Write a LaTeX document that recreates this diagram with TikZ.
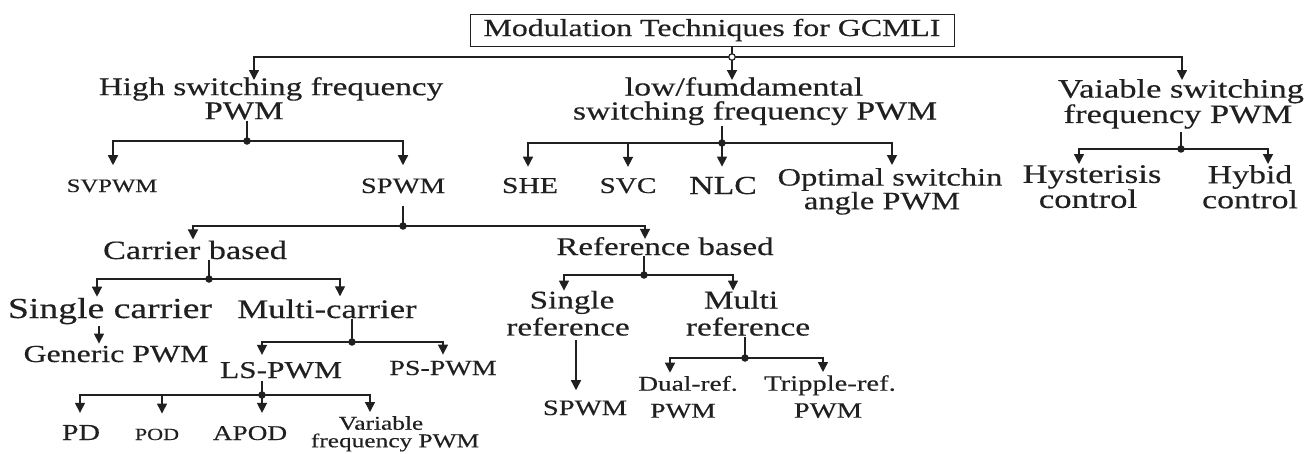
\documentclass[tikz,border=0pt]{standalone}
\usepackage{fontspec}
\setmainfont{Liberation Serif}[FakeStretch=1.3, FakeBold=0.35]
\usetikzlibrary{arrows.meta}
\newcommand\fsz[2]{\fontsize{#1pt}{#2pt}\selectfont}
\definecolor{ink}{RGB}{32,32,32}
\tikzset{
  lbl/.style={inner sep=0pt, align=center, text=ink},
  box/.style={draw=ink, line width=0.9pt, inner sep=0pt, minimum width=484pt, minimum height=32pt, text=ink},
  ln/.style={draw=ink, line width=1.4pt},
  arr/.style={ln, -{Triangle[length=10pt,width=10pt]}},
  jdot/.style={circle, fill=ink, inner sep=0pt, minimum size=7.5pt},
  jring/.style={circle, draw=ink, fill=white, line width=1.2pt, inner sep=0pt, minimum size=6.5pt},
}
\begin{document}
\begin{tikzpicture}[x=1pt,y=-1pt]
\useasboundingbox (0,0) rectangle (1312,453);
\fill[white] (0,0) rectangle (1312,453);

% ---------- root ----------
\node[box, font=\fsz{24.5}{28}] (title) at (712,30) {Modulation Techniques for GCMLI};

% ---------- first level ----------
\node[lbl, font=\fsz{25.5}{24}, anchor=north] (hs) at (271,77) {High switching frequency\\\hspace*{-54pt}PWM};
\node[lbl, font=\fsz{26}{24}, anchor=north] (lf) at (755,77) {\hspace*{-22pt}low/fumdamental\\switching frequency PWM};
\node[lbl, font=\fsz{26.5}{23.5}, anchor=north] (vs) at (1181,79) {Vaiable switching\\\hspace*{-6pt}frequency PWM};

% ---------- second level ----------
\node[lbl, font=\fsz{19}{22}, anchor=base] (svpwm) at (112,192) {SVPWM};
\node[lbl, font=\fsz{22}{24}, anchor=base] (spwmA) at (403,193) {SPWM};
\node[lbl, font=\fsz{22.8}{24}, anchor=base] (she) at (530,193) {SHE};
\node[lbl, font=\fsz{22.5}{24}, anchor=base] (svc) at (628,193) {SVC};
\node[lbl, font=\fsz{26}{24}, anchor=base] (nlc) at (723,194) {NLC};
\node[lbl, font=\fsz{25}{22}, anchor=north] (opt) at (890,168) {Optimal switchin\\\hspace*{-16pt}angle PWM};
\node[lbl, font=\fsz{26.7}{25}, anchor=north] (hyst) at (1092,165) {Hysterisis\\\hspace*{-8pt}control};
\node[lbl, font=\fsz{26}{25}, anchor=north] (hyb) at (1250,165) {Hybid\\control};

% ---------- SPWM subtree ----------
\node[lbl, font=\fsz{26.4}{26}, anchor=base] (cb) at (195,259) {Carrier based};
\node[lbl, font=\fsz{25.4}{26}, anchor=base] (rb) at (665,255) {Reference based};

\node[lbl, font=\fsz{29}{30}, anchor=base] (sc) at (110,318) {Single carrier};
\node[lbl, font=\fsz{26.7}{28}, anchor=base] (mc) at (327,318) {Multi-carrier};
\node[lbl, font=\fsz{24.5}{26}, anchor=base] (gp) at (116,362) {Generic PWM};
\node[lbl, font=\fsz{24.1}{26}, anchor=base] (ls) at (281,378) {LS-PWM};
\node[lbl, font=\fsz{21.5}{24}, anchor=base] (ps) at (443,375) {PS-PWM};

\node[lbl, font=\fsz{22.9}{24}, anchor=base] (pd) at (81,440) {PD};
\node[lbl, font=\fsz{17}{20}, anchor=base] (pod) at (157,440) {POD};
\node[lbl, font=\fsz{21}{24}, anchor=base] (apod) at (250,440) {APOD};
\node[lbl, font=\fsz{19.5}{17.5}, anchor=north] (vf) at (395,416) {\hspace*{-28pt}Variable\\frequency PWM};

\node[lbl, font=\fsz{25.5}{27}, anchor=north] (sr) at (568,290.6) {\hspace*{8pt}Single\\reference};
\node[lbl, font=\fsz{25.7}{27}, anchor=north] (mr) at (748,290.5) {\hspace*{-14pt}Multi\\reference};
\node[lbl, font=\fsz{22}{24}, anchor=base] (spwmB) at (585,415) {SPWM};
\node[lbl, font=\fsz{21}{27}, anchor=north] (dr) at (688,375.7) {Dual-ref.\\\hspace*{-10pt}PWM};
\node[lbl, font=\fsz{22}{27}, anchor=north] (tr) at (830,375) {Tripple-ref.\\\hspace*{-4pt}PWM};

% ---------- junction points ----------
\coordinate (jT)  at (732,57);
\coordinate (jHS) at (247,141);
\coordinate (jLF) at (722,143);
\coordinate (jVS) at (1181,149);
\coordinate (jSP) at (403,226);
\coordinate (jCB) at (209,279);
\coordinate (jMC) at (352,342);
\coordinate (jLS) at (262,395);
\coordinate (jRB) at (644,275);
\coordinate (jMR) at (745,358);

% ---------- root connectors ----------
\draw[ln] (jT |- title.south) -- (jT);
\draw[arr, shorten >=-3pt] (jT) -| ([xshift=-17pt]hs.north);
\draw[arr, shorten >=-3pt] (jT) -- (jT |- lf.north);
\draw[arr, shorten >=-1pt] (jT) -| ([xshift=1pt]vs.north);
\node[jring] at (jT) {};

% ---------- high switching frequency ----------
\draw[ln, shorten <=1pt] (jHS |- hs.south) -- (jHS);
\draw[arr, shorten >=14pt] (jHS) -| ([xshift=1pt]svpwm.north);
\draw[arr, shorten >=13pt] (jHS) -| (spwmA.north);
\node[jdot] at (jHS) {};

% ---------- low / fundamental ----------
\draw[ln, shorten <=1pt] (jLF |- lf.south) -- (jLF);
\draw[arr, shorten >=11pt] (jLF) -| ([xshift=-2pt]she.north);
\draw[arr, shorten >=11pt] (jLF) -| (svc.north);
\draw[arr, shorten >=10pt] (jLF) -- (jLF |- nlc.north);
\draw[arr, shorten >=3pt] (jLF) -| ([xshift=2pt]opt.north);
\node[jdot] at (jLF) {};

% ---------- variable switching frequency ----------
\draw[ln, shorten <=3pt] (jVS |- vs.south) -- (jVS);
\draw[arr, shorten >=1pt] (jVS) -| ([xshift=-13pt]hyst.north);
\draw[arr, shorten >=1pt] (jVS) -| ([xshift=18pt]hyb.north);
\node[jdot] at (jVS) {};

% ---------- SPWM ----------
\draw[ln, shorten <=12pt] (jSP |- spwmA.south) -- (jSP);
\draw[arr, shorten >=1pt] (jSP) -| ([xshift=-2pt]cb.north);
\draw[arr, shorten >=-2pt] (jSP) -| ([xshift=-20pt]rb.north);
\node[jdot] at (jSP) {};

% ---------- carrier based ----------
\draw[ln, shorten <=1pt] (jCB |- cb.south) -- (jCB);
\draw[arr, shorten >=1pt] (jCB) -| ([xshift=-13pt]sc.north);
\draw[arr, shorten >=3pt] (jCB) -| ([xshift=13pt]mc.north);
\node[jdot] at (jCB) {};

\draw[arr, shorten <=2pt, shorten >=2pt] ([xshift=-11pt]sc.south) -- ([xshift=-11pt]sc.south |- gp.north);

\draw[ln, shorten <=1pt] (jMC |- mc.south) -- (jMC);
\draw[arr, shorten >=7pt] (jMC) -| ([xshift=-19pt]ls.north);
\draw[arr, shorten >=6pt] (jMC) -| (ps.north);
\node[jdot] at (jMC) {};

\draw[ln, shorten <=2pt] (jLS |- ls.south) -- (jLS);
\draw[arr, shorten >=12pt] (jLS) -| ([xshift=-1pt]pd.north);
\draw[arr, shorten >=15pt] (jLS) -| ([xshift=5pt]pod.north);
\draw[arr, shorten >=13pt] (jLS) -- (jLS |- apod.north);
\draw[arr, shorten >=4pt] (jLS) -| ([xshift=-25pt]vf.north);
\node[jdot] at (jLS) {};

% ---------- reference based ----------
\draw[ln, shorten <=1pt] (jRB |- rb.south) -- (jRB);
\draw[arr, shorten >=0pt] (jRB) -| ([xshift=-4pt]sr.north);
\draw[arr, shorten >=0pt] (jRB) -| ([xshift=-15pt]mr.north);
\node[jdot] at (jRB) {};

\draw[arr, shorten <=4pt, shorten >=10pt] ([xshift=8pt]sr.south) -- ([xshift=8pt]sr.south |- spwmB.north);

\draw[ln, shorten <=1pt] (jMR |- mr.south) -- (jMR);
\draw[arr, shorten >=3pt] (jMR) -| ([xshift=-18pt]dr.north);
\draw[arr, shorten >=3pt] (jMR) -| ([xshift=-7pt]tr.north);
\node[jdot] at (jMR) {};
\end{tikzpicture}
\end{document}
